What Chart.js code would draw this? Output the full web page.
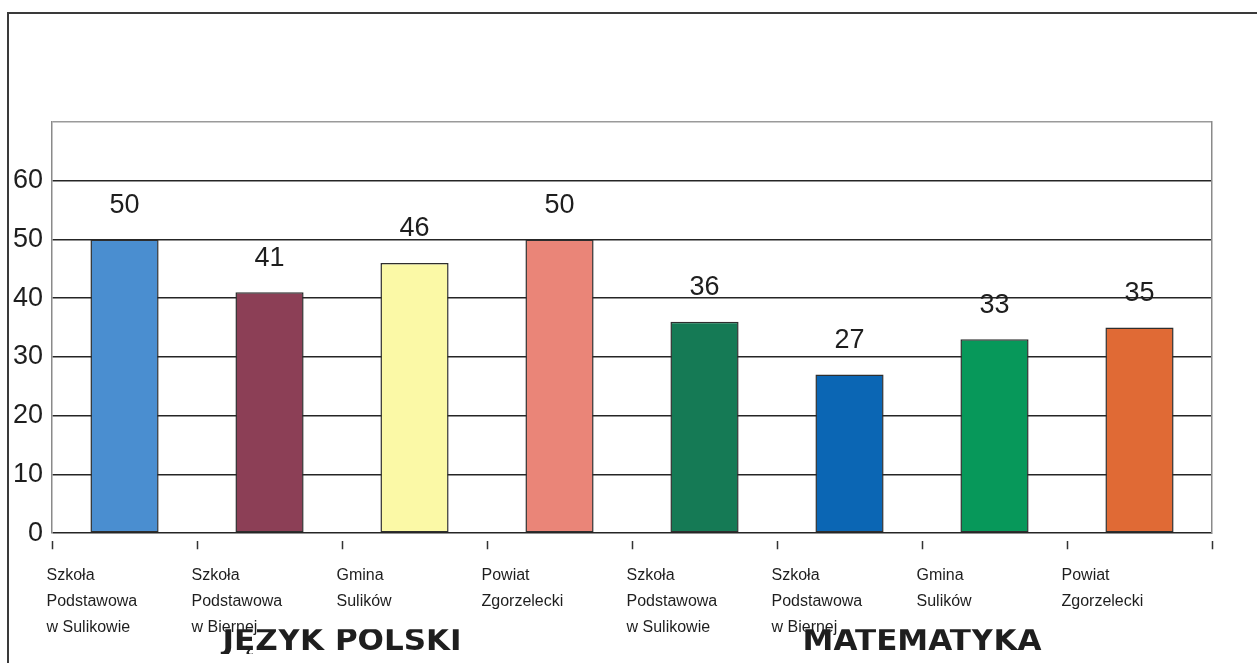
<!DOCTYPE html>
<html>
<head>
<meta charset="utf-8">
<script src="https://cdn.jsdelivr.net/npm/chart.js@4/dist/chart.umd.min.js"></script>
<style>
  html, body { margin: 0; padding: 0; background: #fff; }
  #frame {
    position: absolute; left: 7px; top: 12px; width: 1260px; height: 660px;
    border-top: 2px solid #3a3a3a; border-left: 2px solid #3a3a3a;
  }
  #chart { position: absolute; left: 0; top: 0; }
</style>
</head>
<body>
<div id="frame"></div>
<canvas id="chart" width="1257" height="663"></canvas>
<script>
// values
const categories = [
  ['Szkoła', 'Podstawowa', 'w Sulikowie'],
  ['Szkoła', 'Podstawowa', 'w Biernej'],
  ['Gmina', 'Sulików'],
  ['Powiat', 'Zgorzelecki'],
  ['Szkoła', 'Podstawowa', 'w Sulikowie'],
  ['Szkoła', 'Podstawowa', 'w Biernej'],
  ['Gmina', 'Sulików'],
  ['Powiat', 'Zgorzelecki']
];
const values = [50, 41, 46, 50, 36, 27, 33, 35];
const barColors = ['#4a8ed0', '#8c3f56', '#fbf9a6', '#ea8578', '#157a55', '#0b66b4', '#07985a', '#e06a35'];
const subjects = ['JĘZYK POLSKI', 'MATEMATYKA'];
const yTicks = [0, 10, 20, 30, 40, 50, 60];

const FONT = '"Liberation Sans", Arial, sans-serif';

// numbers above the bars
const valueLabels = {
  id: 'valueLabels',
  afterDatasetsDraw(chart) {
    const ctx = chart.ctx;
    const meta = chart.getDatasetMeta(0);
    ctx.save();
    ctx.font = '27px ' + FONT;
    ctx.fillStyle = '#1e1e1e';
    ctx.textAlign = 'center';
    ctx.textBaseline = 'middle';
    meta.data.forEach((bar, i) => {
      ctx.fillText(String(values[i]), bar.x, bar.y - 34);
    });
    ctx.restore();
  }
};

new Chart(document.getElementById('chart'), {
  type: 'bar',
  data: {
    labels: categories,
    datasets: [{
      data: values,
      backgroundColor: barColors,
      borderColor: '#2e2e2e',
      borderWidth: 1.5,
      borderSkipped: false,
      barPercentage: 0.47,
      categoryPercentage: 1
    }]
  },
  options: {
    responsive: false,
    animation: false,
    layout: { padding: { left: 4, right: 45, top: 122, bottom: 9 } },
    plugins: { legend: { display: false }, tooltip: { enabled: false } },
    scales: {
      y: {
        min: 0, max: 70,
        ticks: {
          stepSize: 10,
          padding: 9,
          color: '#1e1e1e',
          font: { family: FONT, size: 27 },
          callback: v => yTicks.includes(v) ? v : ''
        },
        grid: {
          drawTicks: false,
          lineWidth: 1.6,
          color: c => c.tick && c.tick.value === 70 ? '#9a9a9a' : '#252525'
        },
        border: { display: true, color: '#8a8a8a', width: 1.5 }
      },
      y2: {
        position: 'right',
        ticks: { display: false },
        grid: { drawOnChartArea: false, drawTicks: false },
        border: { display: true, color: '#8a8a8a', width: 1.5 }
      },
      x: {
        ticks: {
          align: 'start',
          labelOffset: -78,
          padding: 14,
          color: '#1e1e1e',
          maxRotation: 0,
          autoSkip: false,
          font: { family: FONT, size: 16, lineHeight: 1.6 }
        },
        grid: {
          drawOnChartArea: false,
          tickLength: 16,
          tickColor: '#333',
          tickWidth: 1.5,
          tickBorderDash: [0, 8, 8]
        },
        border: { display: false }
      },
      x2: {
        type: 'category',
        labels: subjects,
        position: 'bottom',
        offset: true,
        ticks: {
          padding: -31,
          color: '#1e1e1e',
          font: { family: '"DejaVu Sans", Verdana, sans-serif', size: 31, weight: 'bold', lineHeight: 1.2 }
        },
        grid: { display: false, drawTicks: false },
        border: { display: false }
      }
    }
  },
  plugins: [valueLabels]
});
</script>
</body>
</html>
